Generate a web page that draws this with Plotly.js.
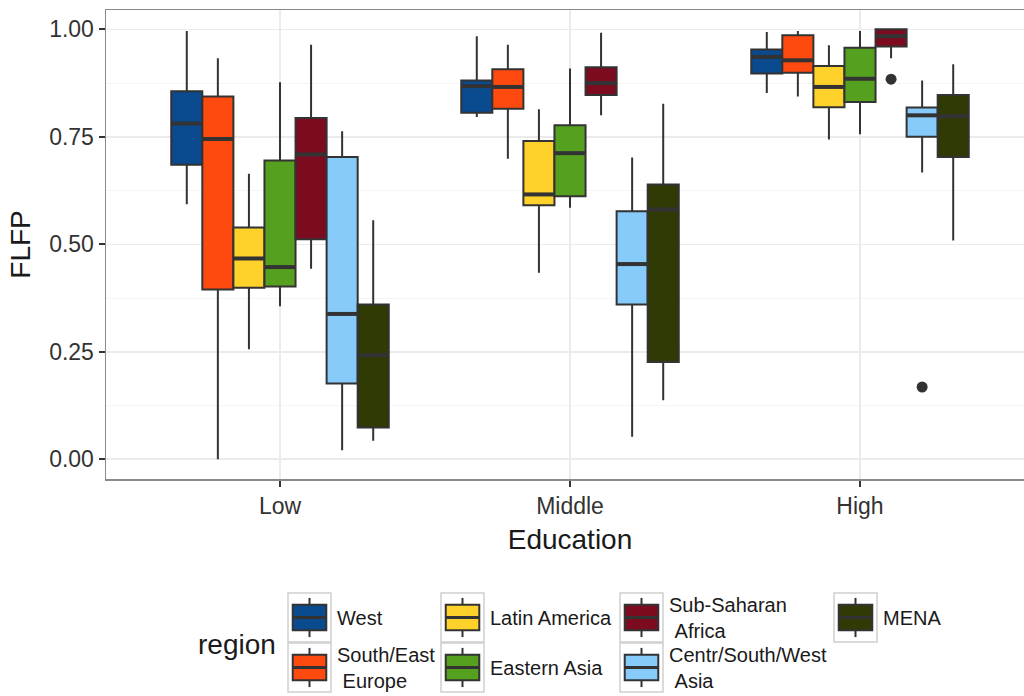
<!DOCTYPE html>
<html>
<head>
<meta charset="utf-8">
<script src="https://cdn.plot.ly/plotly-3.0.1.min.js"></script>
<style>
html, body { margin: 0; padding: 0; overflow: hidden; background: #fff; }
#chart { width: 1042px; height: 696px; }
</style>
</head>
<body>
<div id="chart"></div>
<script>
// ---- data ----
const levels = ['Low', 'Middle', 'High'];
const regions = ['West', 'South/East Europe', 'Latin America', 'Eastern Asia', 'Sub-Saharan Africa', 'Centr/South/West Asia', 'MENA'];
const legendLabels = ['West', 'South/East<br>\u00A0Europe', 'Latin America', 'Eastern Asia', 'Sub-Saharan<br>\u00A0Africa', 'Centr/South/West<br>\u00A0Asia', 'MENA'];
const colors = ['#0A4A8E', '#FF4A0F', '#FFD12B', '#56A020', '#7C0B1F', '#86CBF9', '#2F3A04'];

// values per region, in order Low, Middle, High
const upperFence = [
  [0.996, 0.984, 0.994],
  [0.933, 0.964, 0.996],
  [0.664, 0.814, 0.963],
  [0.877, 0.909, 0.996],
  [0.964, 0.992, 1.000],
  [0.763, 0.702, 0.881],
  [0.556, 0.827, 0.919]
];
const q3 = [
  [0.856, 0.881, 0.953],
  [0.844, 0.907, 0.986],
  [0.539, 0.740, 0.915],
  [0.695, 0.777, 0.957],
  [0.794, 0.912, 1.000],
  [0.703, 0.577, 0.818],
  [0.360, 0.639, 0.847]
];
const median = [
  [0.781, 0.868, 0.936],
  [0.745, 0.866, 0.928],
  [0.467, 0.616, 0.866],
  [0.447, 0.712, 0.885],
  [0.709, 0.875, 0.984],
  [0.338, 0.454, 0.800],
  [0.242, 0.581, 0.798]
];
const q1 = [
  [0.685, 0.806, 0.897],
  [0.395, 0.815, 0.899],
  [0.399, 0.591, 0.819],
  [0.402, 0.612, 0.831],
  [0.512, 0.847, 0.960],
  [0.176, 0.360, 0.750],
  [0.074, 0.226, 0.703]
];
const lowerFence = [
  [0.593, 0.796, 0.852],
  [0.000, 0.699, 0.844],
  [0.256, 0.434, 0.744],
  [0.356, 0.585, 0.756],
  [0.443, 0.800, 0.933],
  [0.021, 0.052, 0.667],
  [0.043, 0.137, 0.509]
];
// outliers
const outlierRegion = [4, 5];
const outlierLevel = [2, 2];
const outlierValue = [0.884, 0.168];

const yTicks = [0, 0.25, 0.5, 0.75, 1.0];
const yTickText = ['0.00', '0.25', '0.50', '0.75', '1.00'];

// ---- layout constants ----
const FONT = 'Liberation Sans, Arial, Helvetica, sans-serif';
const W = 1042, H = 696;
const M = {l: 106, r: 8, t: 10, b: 217};
const PW = W - M.l - M.r, PH = H - M.t - M.b;
const dodge = 0.75;
const nR = regions.length;
const bw = dodge / nR;
const pos = (li, ri) => (li + 1) + (ri - (nR - 1) / 2) * bw;

const traces = [];
regions.forEach((name, ri) => {
  traces.push({
    type: 'box',
    name: name,
    x: levels.map((_, li) => pos(li, ri)),
    q1: q1[ri], median: median[ri], q3: q3[ri],
    lowerfence: lowerFence[ri], upperfence: upperFence[ri],
    width: bw,
    whiskerwidth: 0,
    boxpoints: false,
    fillcolor: colors[ri],
    line: {color: '#333333', width: 2},
    showlegend: false,
    hoverinfo: 'y'
  });
});
// thicker median bars
regions.forEach((name, ri) => {
  const xs = [], ys = [];
  levels.forEach((_, li) => {
    const c = pos(li, ri);
    xs.push(c - bw / 2 + 0.002, c + bw / 2 - 0.002, null);
    ys.push(median[ri][li], median[ri][li], null);
  });
  traces.push({type: 'scatter', mode: 'lines', x: xs, y: ys, line: {color: '#333333', width: 4}, showlegend: false, hoverinfo: 'skip'});
});
// outliers
traces.push({
  type: 'scatter', mode: 'markers',
  x: outlierRegion.map((ri, k) => pos(outlierLevel[k], ri)),
  y: outlierValue,
  marker: {color: '#333333', size: 11},
  showlegend: false, hoverinfo: 'y'
});

// ---- manual ggplot-like legend ----
const px = x => (x - M.l) / PW;
const py = y => (M.t + PH - y) / PH;
const colLeft = [288, 441, 620, 834];
const rowTop = [593, 643];
const keyW = 43, keyH = 49;
const shapes = [], annotations = [];
regions.forEach((name, ri) => {
  const c = Math.floor(ri / 2), r = ri % 2;
  const x0 = colLeft[c], y0 = rowTop[r];
  const cx = x0 + keyW / 2;
  shapes.push({type: 'rect', xref: 'paper', yref: 'paper', x0: px(x0), x1: px(x0 + keyW), y0: py(y0), y1: py(y0 + keyH),
    line: {color: '#cfcfcf', width: 1.5}, fillcolor: '#ffffff', layer: 'above'});
  shapes.push({type: 'line', xref: 'paper', yref: 'paper', x0: px(cx), x1: px(cx), y0: py(y0 + keyH * 0.1), y1: py(y0 + keyH * 0.9),
    line: {color: '#333333', width: 2}, layer: 'above'});
  shapes.push({type: 'rect', xref: 'paper', yref: 'paper', x0: px(x0 + keyW * 0.11), x1: px(x0 + keyW * 0.89), y0: py(y0 + keyH * 0.24), y1: py(y0 + keyH * 0.76),
    line: {color: '#333333', width: 2}, fillcolor: colors[ri], layer: 'above'});
  shapes.push({type: 'line', xref: 'paper', yref: 'paper', x0: px(x0 + keyW * 0.11), x1: px(x0 + keyW * 0.89), y0: py(y0 + keyH * 0.5), y1: py(y0 + keyH * 0.5),
    line: {color: '#333333', width: 3}, layer: 'above'});
  annotations.push({xref: 'paper', yref: 'paper', x: px(x0 + keyW + 4), y: py(y0 + keyH / 2), text: legendLabels[ri],
    showarrow: false, xanchor: 'left', yanchor: 'middle', align: 'left', font: {family: FONT, size: 20, color: '#1a1a1a'}});
});
annotations.push({xref: 'paper', yref: 'paper', x: px(196), y: py(644), text: 'region', showarrow: false,
  xanchor: 'left', yanchor: 'middle', font: {family: FONT, size: 28, color: '#1a1a1a'}});

const layout = {
  width: W, height: H,
  margin: M,
  paper_bgcolor: '#ffffff', plot_bgcolor: '#ffffff',
  font: {family: FONT, color: '#1a1a1a'},
  showlegend: false,
  boxmode: 'overlay',
  xaxis: {
    range: [0.4, 3.6],
    tickvals: levels.map((_, i) => i + 1), ticktext: levels,
    tickfont: {family: FONT, size: 23, color: '#333333'},
    ticks: 'outside', ticklen: 6, tickwidth: 2, tickcolor: '#333333',
    showgrid: true, gridcolor: '#ebebeb', gridwidth: 1.5,
    showline: true, linecolor: '#8a8a8a', linewidth: 1.5, mirror: true,
    zeroline: false,
    title: {text: 'Education', font: {family: FONT, size: 28, color: '#1a1a1a'}, standoff: 11}
  },
  yaxis: {
    range: [-0.046, 1.045],
    tickvals: yTicks, ticktext: yTickText,
    tickfont: {family: FONT, size: 23, color: '#333333'},
    ticks: 'outside', ticklen: 6, tickwidth: 2, tickcolor: '#333333',
    showgrid: true, gridcolor: '#ebebeb', gridwidth: 1.5,
    minor: {tickvals: [0.125, 0.375, 0.625, 0.875], showgrid: true, gridcolor: '#f5f5f5', gridwidth: 1},
    showline: true, linecolor: '#8a8a8a', linewidth: 1.5, mirror: true,
    zeroline: false,
    title: {text: 'FLFP', font: {family: FONT, size: 28, color: '#1a1a1a'}, standoff: 10}
  },
  shapes: shapes,
  annotations: annotations
};

Plotly.newPlot('chart', traces, layout, {staticPlot: true, displayModeBar: false});
</script>
</body>
</html>
